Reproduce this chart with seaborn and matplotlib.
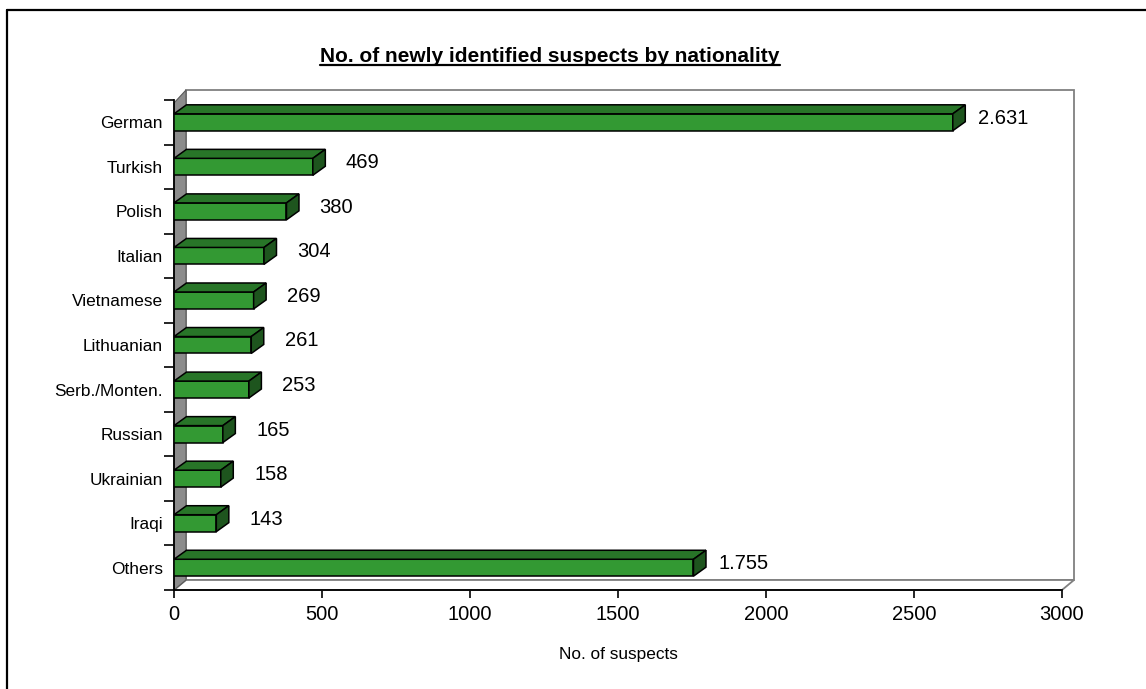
import matplotlib
matplotlib.use("Agg")
import numpy as np
import pandas as pd
import seaborn as sns
import matplotlib.pyplot as plt
from matplotlib.patches import Polygon
from matplotlib.lines import Line2D

# --- data -----------------------------------------------------------------
nationalities = ["German", "Turkish", "Polish", "Italian", "Vietnamese",
                 "Lithuanian", "Serb./Monten.", "Russian", "Ukrainian",
                 "Iraqi", "Others"]
suspects = [2631, 469, 380, 304, 269, 261, 253, 165, 158, 143, 1755]
x_ticks = [0, 500, 1000, 1500, 2000, 2500, 3000]
title = "No. of newly identified suspects by nationality"
x_label = "No. of suspects"

# --- style ----------------------------------------------------------------
sns.set_theme(style="white")
plt.rcParams["font.family"] = ["Liberation Sans", "DejaVu Sans"]
plt.rcParams["text.color"] = "black"
plt.rcParams["axes.labelcolor"] = "black"
plt.rcParams["xtick.color"] = "black"
plt.rcParams["ytick.color"] = "black"

W, H = 1146, 689
fig = plt.figure(figsize=(W / 100, H / 100), dpi=100)
fig.patch.set_facecolor("white")

# front plane of the plot area (pixels from the top-left corner)
left_px, right_px, top_px, bottom_px = 174, 1062, 100, 590
ax = fig.add_axes([left_px / W, (H - bottom_px) / H,
                   (right_px - left_px) / W, (bottom_px - top_px) / H])
ax.set_facecolor("none")

x_max = x_ticks[-1]
n = len(nationalities)


def dx(px):
    """pixel length -> data length along x"""
    return px * x_max / (right_px - left_px)


def dy(px):
    """pixel length -> data length along y"""
    return px * n / (bottom_px - top_px)


df = pd.DataFrame({"nationality": nationalities, "suspects": suspects})
sns.barplot(data=df, y="nationality", x="suspects", orient="h",
            width=0.38, color="#339933", saturation=1,
            edgecolor="black", linewidth=1.1, ax=ax, zorder=5)
bars = list(ax.patches)

ax.set_xlim(0, x_max)
ax.set_ylim(n - 0.5, -0.5)

# --- 3-D walls --------------------------------------------------------------
wdx, wdy = dx(12), dy(10)
y_top, y_bot = -0.5, n - 0.5
back_wall = Polygon([(wdx, y_top - wdy), (x_max + wdx, y_top - wdy),
                     (x_max + wdx, y_bot - wdy), (wdx, y_bot - wdy)],
                    closed=True, facecolor="white", edgecolor="#808080",
                    linewidth=1.3, clip_on=False, zorder=1)
floor = Polygon([(0, y_bot), (x_max, y_bot), (x_max + wdx, y_bot - wdy),
                 (wdx, y_bot - wdy)], closed=True, facecolor="white",
                edgecolor="#808080", linewidth=1.3, clip_on=False, zorder=1.5)
side_wall = Polygon([(0, y_bot), (0, y_top + dy(3)), (wdx, y_top - wdy),
                     (wdx, y_bot - wdy)], closed=True, facecolor="#8c8c8c",
                    edgecolor="#5a5a5a", linewidth=0.8, clip_on=False,
                    zorder=2)
for p in (back_wall, floor, side_wall):
    ax.add_patch(p)

# --- 3-D bar faces ------------------------------------------------------------
bdx, bdy = dx(12.5), dy(9)
for bar in bars:
    x0 = bar.get_x()
    x1 = x0 + bar.get_width()
    y0 = bar.get_y()
    y1 = y0 + bar.get_height()
    top = Polygon([(x0, y0), (x1, y0), (x1 + bdx, y0 - bdy), (x0 + bdx, y0 - bdy)],
                  closed=True, facecolor="#287528", edgecolor="black",
                  linewidth=1.1, clip_on=False, zorder=5)
    side = Polygon([(x1, y0), (x1, y1), (x1 + bdx, y1 - bdy), (x1 + bdx, y0 - bdy)],
                   closed=True, facecolor="#1e551e", edgecolor="black",
                   linewidth=1.1, clip_on=False, zorder=5)
    ax.add_patch(top)
    ax.add_patch(side)

# --- value labels -------------------------------------------------------------
for i, v in enumerate(suspects):
    ax.text(v + dx(50), i - dy(4), f"{v:,}".replace(",", "."),
            ha="center", va="center", fontsize=14.5, color="black",
            clip_on=False, zorder=6)

# --- axes ---------------------------------------------------------------------
for s in ("top", "right"):
    ax.spines[s].set_visible(False)
for s in ("left", "bottom"):
    ax.spines[s].set_color("black")
    ax.spines[s].set_linewidth(1.3)
    ax.spines[s].set_zorder(4)

ax.set_xticks(x_ticks)
ax.set_xticklabels([str(t) for t in x_ticks])
ax.tick_params(axis="x", which="major", bottom=True, direction="out",
               length=6, width=1.2, colors="black", labelsize=14.5, pad=5)

ax.set_yticks(range(n))
ax.set_yticklabels(nationalities)
ax.set_yticks(np.arange(-0.5, n, 1.0), minor=True)
ax.tick_params(axis="y", which="major", left=False, length=0,
               labelsize=12.4, pad=8, labelcolor="black")
ax.tick_params(axis="y", which="minor", left=True, direction="out",
               length=7, width=1.2, color="black")
ax.set_ylabel("")

ax.set_xlabel(x_label, fontsize=12.4, color="black")
ax.xaxis.label.set_va("center")
ax.xaxis.set_label_coords(0.5, (bottom_px - 654) / (bottom_px - top_px))

# --- title with underline -------------------------------------------------------
t = fig.text(550 / W, 1 - 62 / H, title, ha="center", va="baseline",
             fontsize=15, fontweight="bold", color="black")
fig.canvas.draw()
bb = t.get_window_extent()
uy = 1 - 65 / H
fig.add_artist(Line2D([bb.x0 / W, bb.x1 / W], [uy, uy], color="black",
                      linewidth=1.6, transform=fig.transFigure))

# --- outer frame ----------------------------------------------------------------
fig.add_artist(Line2D([7 / W, 1.0], [1 - 10 / H, 1 - 10 / H], color="black",
                      linewidth=1.6, transform=fig.transFigure))
fig.add_artist(Line2D([7 / W, 7 / W], [0.0, 1 - 10 / H], color="black",
                      linewidth=1.6, transform=fig.transFigure))

fig.savefig("out.png", dpi=100, facecolor="white")
